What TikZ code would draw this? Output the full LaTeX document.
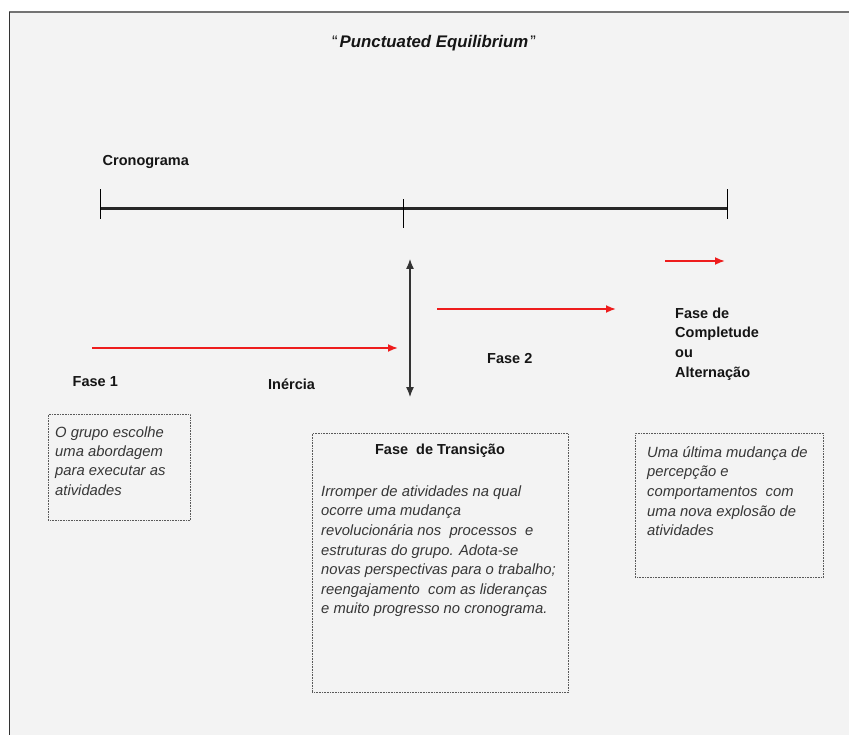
\documentclass[tikz,border=0pt]{standalone}
\usepackage{fontspec}
\setmainfont{Liberation Sans}
\usetikzlibrary{arrows.meta}
\definecolor{bg}{HTML}{F3F3F3}
\definecolor{txt}{HTML}{151515}
\definecolor{itx}{HTML}{363636}
\definecolor{redarr}{HTML}{EE1C1C}
\newcommand\fl{\rule{0pt}{13pt}}
\tikzset{
  x=1pt, y=-1pt,
  lbl/.style={inner sep=0pt, anchor=base west, text=txt, font=\fontsize{14.5}{19.7}\selectfont\bfseries},
  body/.style={inner sep=0pt, anchor=north west, align=left, text=itx, font=\fontsize{14.8}{19.6}\selectfont\itshape},
  dotbox/.style={draw=black!65, line width=0.8pt, dash pattern=on 0.8pt off 0.8pt, inner sep=0pt, anchor=north west},
  redline/.style={draw=redarr, line width=1.8pt, -{Latex[length=10pt,width=8pt]}},
  timeline/.style={draw=black!85, line width=3pt},
  tick/.style={draw=black, line width=0.9pt},
  dbl/.style={draw=black!80, line width=1.2pt, {Latex[length=10pt,width=8pt]}-{Latex[length=10pt,width=8pt]}}
}
\begin{document}
\begin{tikzpicture}
\useasboundingbox (0,0) rectangle (849,735);
\fill[white] (0,0) rectangle (849,735);
\fill[bg] (9,12) rectangle (849,735);
\draw[black!55, line width=1.5pt] (9,12) -- (849,12);
\draw[black!80, line width=1pt] (9,12) -- (9,735);

% title
\node[inner sep=0pt, anchor=base, text=txt, font=\fontsize{16.8}{20}\selectfont] (title) at (434,48) {“\hspace{2pt}\textbf{\textit{Punctuated Equilibrium}}\hspace{2pt}”};

% timeline
\node[lbl] (crono) at (102.5,166) {Cronograma};
\coordinate (t0) at (100,209);
\coordinate (t1) at (403,209);
\coordinate (t2) at (727,209);
\draw[timeline] (t0) -- (t2);
\draw[tick] ([yshift=-10pt]t0) -- ([yshift=20pt]t0);
\draw[tick] ([yshift=-19pt]t1) -- ([yshift=10pt]t1);
\draw[tick] ([yshift=-10pt]t2) -- ([yshift=20pt]t2);

% red arrows
\coordinate (r1a) at (92,348);  \coordinate (r1b) at (398,348);
\coordinate (r2a) at (437,309); \coordinate (r2b) at (616,309);
\coordinate (r3a) at (665,261); \coordinate (r3b) at (725,261);
\draw[redline] (r1a) -- (r1b);
\draw[redline] (r2a) -- (r2b);
\draw[redline] (r3a) -- (r3b);

% vertical double arrow
\coordinate (va) at (410,259);
\coordinate (vb) at (410,397);
\draw[dbl] (va) -- (vb);

% labels
\node[lbl] (fase1) at (72.5,387) {Fase 1};
\node[lbl] (inercia) at (268,389) {Inércia};
\node[lbl] (fase2) at (487,363) {Fase 2};
\node[lbl, anchor=north west, align=left] (fase3) at (675,305) {\fl Fase de\\Completude\\ou\\Alternação};

% boxes
\node[dotbox, minimum width=142pt, minimum height=106pt] (b1) at (48,414) {};
\node[body, font=\fontsize{14.8}{19.3}\selectfont\itshape] (b1t) at (55,424) {\fl O grupo escolhe\\uma abordagem\\para executar as\\atividades};

\node[dotbox, minimum width=256pt, minimum height=259pt] (b2) at (312,433) {};
\node[inner sep=0pt, anchor=base, text=txt, font=\fontsize{14.5}{19}\selectfont\bfseries] (b2h) at (440,454) {Fase\ \ de Transição};
\node[body] (b2t) at (321,483) {\fl Irromper de atividades na qual\\ocorre uma mudança\\revolucionária nos\ \ processos\ \ e\\estruturas do grupo. Adota-se\\novas perspectivas para o trabalho;\\reengajamento\ \ com as lideranças\\e muito progresso no cronograma.};

\node[dotbox, minimum width=188pt, minimum height=144pt] (b3) at (635,433) {};
\node[body] (b3t) at (647,444) {\fl Uma última mudança de\\percepção e\\comportamentos\ \ com\\uma nova explosão de\\atividades};
\end{tikzpicture}
\end{document}
